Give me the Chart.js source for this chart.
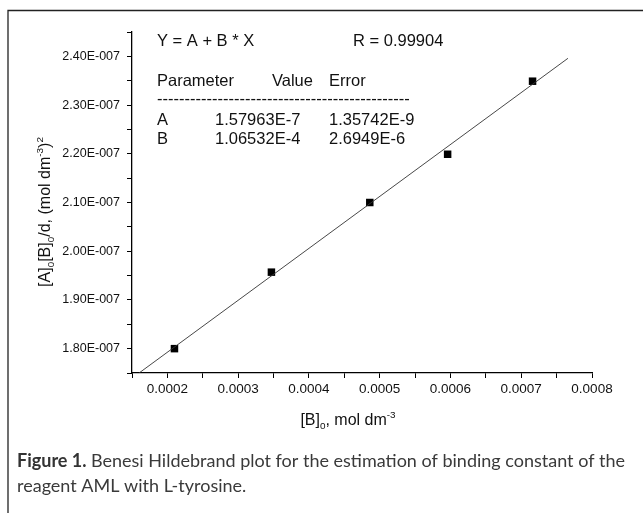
<!DOCTYPE html>
<html>
<head>
<meta charset="utf-8">
<script src="https://cdn.jsdelivr.net/npm/chart.js@4.4.1/dist/chart.umd.min.js"></script>
<style>
  html, body { margin: 0; padding: 0; background: #fff; }
  #wrap { position: relative; width: 643px; height: 513px; }
</style>
</head>
<body>
<div id="wrap"><canvas id="chart"></canvas></div>
<script>
// measured points: [B]0 vs [A]0[B]0/d
const concB = [0.00021, 0.000347, 0.000486, 0.000596, 0.000716];
const ratioY = [1.800e-7, 1.957e-7, 2.100e-7, 2.199e-7, 2.349e-7];

// fitted line end points (as drawn in the figure)
const fitX = [0.00016, 0.000766];
const fitY = [1.750e-7, 2.396e-7];

// fit report text
const fitHeader = ['Y = A + B * X', 'R = 0.99904'];
const paramCols = ['Parameter', 'Value', 'Error'];
const paramNames = ['A', 'B'];
const paramValues = ['1.57963E-7', '1.06532E-4'];
const paramErrors = ['1.35742E-9', '2.6949E-6'];

const AX = '"Liberation Sans", Arial, sans-serif';

// draws text runs with sub/superscripts
function richText(ctx, parts, x, y, size) {
  let cx = x;
  parts.forEach(p => {
    const s = p.sub || p.sup ? size * 0.62 : size;
    ctx.font = s + 'px ' + AX;
    const dy = p.sub ? size * 0.28 : p.sup ? -size * 0.42 : 0;
    ctx.fillText(p.t, cx, y + dy);
    cx += ctx.measureText(p.t).width;
  });
  return cx - x;
}
function richWidth(ctx, parts, size) {
  let w = 0;
  parts.forEach(p => {
    const s = p.sub || p.sup ? size * 0.62 : size;
    ctx.font = s + 'px ' + AX;
    w += ctx.measureText(p.t).width;
  });
  return w;
}

const textPlugin = {
  id: 'figText',
  afterDraw(chart) {
    const ctx = chart.ctx;
    ctx.save();
    ctx.fillStyle = '#111';
    ctx.textBaseline = 'alphabetic';
    ctx.textAlign = 'left';

    // frame
    ctx.strokeStyle = '#222';
    ctx.lineWidth = 1.3;
    ctx.beginPath();
    ctx.moveTo(8, 513);
    ctx.lineTo(8, 10.5);
    ctx.lineTo(643, 10.5);
    ctx.stroke();

    // fit report
    ctx.font = '16.5px ' + AX;
    ctx.fillText(fitHeader[0], 157, 46);
    ctx.fillText(fitHeader[1], 353, 46);
    ctx.fillText(paramCols[0], 157, 86);
    ctx.fillText(paramCols[1], 272, 86);
    ctx.fillText(paramCols[2], 329, 86);
    let dash = '';
    while (ctx.measureText(dash + '-').width < 255) dash += '-';
    ctx.fillText(dash, 157, 104);
    paramNames.forEach((n, i) => {
      const y = 125 + i * 19.3;
      ctx.fillText(n, 157, y);
      ctx.fillText(paramValues[i], 215, y);
      ctx.fillText(paramErrors[i], 329, y);
    });

    // x axis title
    const xt = [{t: '[B]'}, {t: '0', sub: true}, {t: ', mol dm'}, {t: '-3', sup: true}];
    const xw = richWidth(ctx, xt, 16);
    richText(ctx, xt, 348 - xw / 2, 425, 16);

    // y axis title
    const yt = [{t: '[A]'}, {t: '0', sub: true}, {t: '[B]'}, {t: '0', sub: true},
                {t: '/d, (mol dm'}, {t: '-3', sup: true}, {t: ')'}, {t: '2', sup: true}];
    const yw = richWidth(ctx, yt, 16);
    ctx.save();
    ctx.translate(50, 212);
    ctx.rotate(-Math.PI / 2);
    richText(ctx, yt, -yw / 2, 0, 16);
    ctx.restore();

    // caption
    ctx.fillStyle = '#333';
    ctx.font = 'bold 18px Lato, sans-serif';
    ctx.fillText('Figure 1.', 17, 467);
    const fw = ctx.measureText('Figure 1. ').width;
    ctx.fillStyle = '#3a3a3a';
    ctx.font = '18px Lato, sans-serif';
    ctx.fillText('Benesi Hildebrand plot for the estimation of binding constant of the', 17 + fw, 467);
    ctx.fillText('reagent AML with L-tyrosine.', 17, 492);
    ctx.restore();
  }
};

new Chart(document.getElementById('chart'), {
  data: {
    datasets: [
      {
        type: 'line',
        data: fitX.map((x, i) => ({x: x, y: fitY[i]})),
        borderColor: '#333',
        borderWidth: 0.9,
        pointRadius: 0,
        fill: false
      },
      {
        type: 'scatter',
        data: concB.map((x, i) => ({x: x, y: ratioY[i]})),
        pointStyle: 'rect',
        pointRadius: 5.3,
        backgroundColor: '#000',
        borderColor: '#000',
        borderWidth: 0
      }
    ]
  },
  options: {
    responsive: true,
    maintainAspectRatio: false,
    animation: false,
    layout: { padding: { left: 0, right: 51, top: 32, bottom: 100 } },
    plugins: { legend: { display: false }, tooltip: { enabled: false } },
    scales: {
      x: {
        type: 'linear',
        min: 0.00015,
        max: 0.0008,
        afterFit: s => { s.height = 40; },
        border: { color: '#000', width: 1.3 },
        grid: { drawOnChartArea: false, tickLength: 5, color: '#000', tickColor: '#000' },
        ticks: {
          stepSize: 0.00005,
          autoSkip: false,
          maxRotation: 0,
          padding: 3,
          color: '#111',
          font: { family: AX, size: 13.5 },
          callback: v => {
            const k = v * 1e4;
            return Math.abs(k - Math.round(k)) < 1e-6 ? v.toFixed(4) : '';
          }
        }
      },
      y: {
        type: 'linear',
        min: 1.75e-7,
        max: 2.45e-7,
        afterFit: s => { s.width = 132; },
        border: { color: '#000', width: 1.3 },
        grid: { drawOnChartArea: false, tickLength: 5, color: '#000', tickColor: '#000' },
        ticks: {
          stepSize: 0.05e-7,
          autoSkip: false,
          padding: 7,
          color: '#111',
          font: { family: AX, size: 12.5 },
          callback: v => {
            const k = Math.round(v * 1e9);
            return k % 10 === 0 ? (v * 1e7).toFixed(2) + 'E-007' : '';
          }
        }
      }
    }
  },
  plugins: [textPlugin]
});
</script>
</body>
</html>
